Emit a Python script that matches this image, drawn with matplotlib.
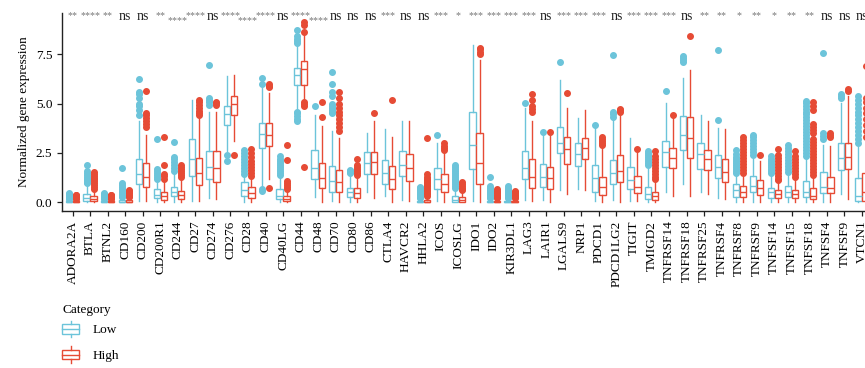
import numpy as np
import matplotlib
matplotlib.use("Agg")
import matplotlib.pyplot as plt
from matplotlib.patches import Patch, Rectangle
from matplotlib.lines import Line2D
from matplotlib.legend_handler import HandlerBase

plt.rcParams['font.family'] = ['Liberation Serif', 'DejaVu Serif']

# -----------------------------
# Data
# -----------------------------
genes = ["ADORA2A", "BTLA", "BTNL2", "CD160", "CD200", "CD200R1", "CD244", "CD27",
         "CD274", "CD276", "CD28", "CD40", "CD40LG", "CD44", "CD48", "CD70", "CD80",
         "CD86", "CTLA4", "HAVCR2", "HHLA2", "ICOS", "ICOSLG", "IDO1", "IDO2",
         "KIR3DL1", "LAG3", "LAIR1", "LGALS9", "NRP1", "PDCD1", "PDCD1LG2", "TIGIT",
         "TMIGD2", "TNFRSF14", "TNFRSF18", "TNFRSF25", "TNFRSF4", "TNFRSF8",
         "TNFRSF9", "TNFSF14", "TNFSF15", "TNFSF18", "TNFSF4", "TNFSF9", "VTCN1"]

signif = ["**", "****", "**", "ns", "ns", "**", "****", "****", "ns", "****", "****",
          "****", "ns", "****", "****", "ns", "ns", "ns", "***", "ns", "ns", "***", "*",
          "***", "***", "***", "***", "ns", "***", "***", "***", "ns", "***", "***",
          "***", "ns", "**", "**", "*", "**", "*", "**", "**", "ns", "ns", "ns"]

# Low group box stats
low_q1 = [0.0, 0.07, 0.0, 0.0, 0.9, 0.2, 0.29, 1.33, 1.16, 3.9, 0.29, 2.73, 0.15, 5.93,
          1.16, 0.54, 0.24, 1.41, 0.94, 1.33, 0.0, 0.66, 0.03, 1.67, 0.0, 0.0, 1.16,
          0.79, 2.5, 1.84, 0.54, 0.94, 0.66, 0.15, 1.78, 2.64, 1.67, 1.21, 0.27, 0.49,
          0.2, 0.27, 0.24, 0.44, 1.63, 0.07]
low_med = [0.02, 0.19, 0.02, 0.03, 1.41, 0.35, 0.54, 2.2, 1.78, 4.48, 0.62, 3.47, 0.32,
           6.46, 1.75, 1.08, 0.49, 2.0, 1.5, 1.89, 0.02, 1.16, 0.12, 2.88, 0.02, 0.02,
           1.75, 1.3, 3.01, 2.46, 1.21, 1.46, 1.11, 0.4, 2.56, 3.43, 2.42, 1.8, 0.6,
           0.82, 0.49, 0.49, 0.54, 0.77, 2.26, 0.29]
low_q3 = [0.06, 0.4, 0.06, 0.1, 2.2, 0.69, 0.79, 3.2, 2.6, 4.9, 1.0, 4.02, 0.65, 6.83,
          2.64, 1.83, 0.74, 2.56, 2.12, 2.6, 0.08, 1.72, 0.29, 4.56, 0.08, 0.08, 2.6,
          1.92, 3.82, 3.0, 1.89, 2.14, 1.78, 0.77, 3.1, 4.36, 3.0, 2.39, 0.94, 1.33,
          0.74, 0.82, 1.08, 1.53, 2.98, 1.21]
low_lo = [0.0, 0.0, 0.0, 0.0, 0.05, 0.0, 0.0, 0.05, 0.2, 2.6, 0.0, 0.8, 0.0, 4.7, 0.25,
          0.05, 0.0, 0.5, 0.3, 0.1, 0.0, 0.05, 0.0, 0.05, 0.0, 0.0, 0.1, 0.1, 0.6, 0.65,
          0.05, 0.1, 0.05, 0.0, 0.5, 0.9, 0.5, 0.2, 0.0, 0.0, 0.0, 0.0, 0.0, 0.0, 0.4, 0.0]
low_hi = [0.14, 0.88, 0.14, 0.24, 4.1, 1.05, 1.5, 5.2, 4.6, 6.4, 1.35, 5.8, 1.3, 7.95,
          4.4, 3.6, 1.4, 3.5, 3.72, 4.1, 0.18, 3.0, 0.6, 7.98, 0.18, 0.18, 4.8, 3.5,
          6.2, 4.28, 3.8, 4.2, 3.27, 1.7, 5.03, 6.3, 4.44, 3.77, 1.4, 2.17, 1.4, 1.45,
          2.2, 2.9, 5.03, 2.8]
low_fliers = [
    [0.18, 0.22, 0.26, 0.3, 0.34, 0.38, 0.42, 0.46],
    [0.95, 1.0, 1.1, 1.2, 1.3, 1.4, 1.5, 1.6, 1.88],
    [0.18, 0.22, 0.26, 0.3, 0.34, 0.38, 0.42, 0.45],
    [0.28, 0.33, 0.38, 0.45, 0.55, 0.65, 0.75, 0.85, 0.95, 1.75],
    [4.4, 4.7, 4.9, 5.0, 5.3, 5.5, 5.6, 6.26],
    [1.2, 1.3, 1.4, 1.5, 1.6, 1.67, 3.2],
    [1.6, 1.75, 1.9, 2.05, 2.2, 2.3, 3.05],
    [],
    [4.95, 5.1, 5.2, 5.3, 6.97],
    [2.1, 2.4],
    [1.45, 1.6, 1.75, 1.9, 2.05, 2.2, 2.35, 2.5, 2.65],
    [0.55, 0.65, 6.0, 6.3],
    [1.4, 1.5, 1.6, 1.7, 1.8, 1.9, 2.0, 2.1, 2.2, 2.35],
    [4.1, 4.2, 4.35, 4.5, 4.6, 8.1, 8.2, 8.3, 8.45, 8.72],
    [4.9],
    [4.5, 4.6, 4.7, 4.8, 4.9, 5.0, 5.4, 5.6, 6.0, 6.6],
    [1.5, 1.55, 1.6, 1.65],
    [],
    [],
    [],
    [0.22, 0.28, 0.34, 0.4, 0.46, 0.52, 0.58, 0.64, 0.7, 0.78],
    [3.4],
    [0.7, 0.8, 0.9, 1.0, 1.1, 1.2, 1.3, 1.4, 1.5, 1.6, 1.7, 1.8, 1.9],
    [],
    [0.22, 0.28, 0.34, 0.4, 0.46, 0.52, 0.58, 0.64, 0.72, 0.8, 1.3],
    [0.22, 0.28, 0.34, 0.4, 0.46, 0.52, 0.58, 0.64, 0.72, 0.8],
    [5.05],
    [3.57],
    [7.1],
    [],
    [3.9],
    [4.3, 4.45, 4.6, 7.45],
    [],
    [1.9, 2.0, 2.1, 2.2, 2.3, 2.4, 2.5, 2.6],
    [5.65],
    [7.1, 7.2, 7.3, 7.4],
    [],
    [4.15, 7.7],
    [1.5, 1.6, 1.7, 1.8, 1.9, 2.0, 2.1, 2.2, 2.3, 2.45, 2.65],
    [2.4, 2.55, 2.7, 2.85, 3.0, 3.15, 3.3, 3.4],
    [1.5, 1.6, 1.7, 1.8, 1.9, 2.0, 2.1, 2.2, 2.35],
    [1.55, 1.7, 1.85, 2.0, 2.15, 2.3, 2.45, 2.6, 2.75, 2.9],
    [2.35, 2.5, 2.65, 2.8, 2.95, 3.1, 3.25, 3.4, 3.55, 3.7, 3.85, 4.0, 4.15, 4.3,
     4.45, 4.6, 4.75, 4.9, 5.05, 5.15],
    [3.2, 3.35, 3.5, 7.55],
    [5.3, 5.4, 5.5],
    [3.0, 3.2, 3.4, 3.6, 3.8, 4.0, 4.2, 4.4, 4.6, 4.8, 5.0, 5.2, 5.4],
]

# High group box stats
high_q1 = [0.0, 0.07, 0.0, 0.0, 0.77, 0.1, 0.15, 0.86, 1.03, 4.41, 0.19, 2.83, 0.07,
           5.96, 0.74, 0.54, 0.2, 1.41, 0.66, 1.08, 0.0, 0.49, 0.02, 0.94, 0.0, 0.0,
           0.74, 0.66, 1.92, 2.17, 0.35, 1.0, 0.44, 0.1, 1.75, 2.26, 1.63, 1.03, 0.24,
           0.35, 0.19, 0.19, 0.15, 0.44, 1.67, 0.07]
high_med = [0.02, 0.15, 0.02, 0.03, 1.28, 0.3, 0.35, 1.46, 1.75, 4.98, 0.44, 3.43, 0.15,
            6.77, 1.25, 1.0, 0.45, 2.04, 1.16, 1.75, 0.03, 0.91, 0.1, 1.97, 0.02, 0.02,
            1.3, 1.21, 2.68, 2.76, 0.77, 1.58, 0.79, 0.29, 2.26, 3.27, 2.17, 1.55, 0.52,
            0.7, 0.4, 0.42, 0.32, 0.74, 2.3, 0.52]
high_q3 = [0.06, 0.29, 0.06, 0.1, 1.97, 0.54, 0.57, 2.26, 2.59, 5.37, 0.77, 4.0, 0.32,
           7.14, 2.0, 1.63, 0.7, 2.56, 1.83, 2.46, 0.12, 1.41, 0.27, 3.52, 0.07, 0.07,
           2.2, 1.8, 3.3, 3.27, 1.3, 2.39, 1.33, 0.52, 2.76, 4.31, 2.64, 2.17, 0.82,
           1.13, 0.62, 0.62, 0.74, 1.28, 3.0, 1.5]
high_lo = [0.0, 0.0, 0.0, 0.0, 0.05, 0.0, 0.0, 0.05, 0.15, 3.1, 0.0, 1.2, 0.0, 5.2, 0.0,
           0.0, 0.0, 0.2, 0.0, 0.05, 0.0, 0.0, 0.0, 0.0, 0.0, 0.0, 0.05, 0.0, 0.4, 0.6,
           0.0, 0.0, 0.05, 0.0, 0.3, 0.3, 0.4, 0.15, 0.0, 0.0, 0.0, 0.0, 0.0, 0.0, 0.15, 0.0]
high_hi = [0.14, 0.6, 0.14, 0.24, 3.43, 1.1, 1.2, 4.3, 4.6, 6.46, 1.2, 5.54, 0.6, 8.55,
           3.85, 3.27, 1.3, 4.1, 3.3, 4.1, 0.28, 2.5, 0.55, 7.2, 0.16, 0.16, 4.1, 3.4,
           4.8, 4.7, 2.8, 4.55, 2.6, 1.05, 4.28, 6.72, 4.1, 3.69, 1.3, 2.09, 1.0, 1.2,
           1.3, 2.85, 5.37, 3.0]
high_fliers = [
    [0.18, 0.22, 0.26, 0.3, 0.34, 0.38],
    [0.65, 0.75, 0.85, 0.95, 1.05, 1.15, 1.25, 1.35, 1.45, 1.53],
    [0.18, 0.22, 0.26, 0.3, 0.34, 0.38],
    [0.28, 0.33, 0.38, 0.44, 0.5, 0.56, 0.6],
    [3.8, 3.95, 4.1, 4.25, 4.4, 4.55, 5.65],
    [1.2, 1.35, 1.45, 1.9, 3.3],
    [1.3, 1.4, 1.5, 1.6, 1.7, 1.8, 1.9],
    [4.4, 4.5, 4.65, 4.8, 4.95, 5.1, 5.2],
    [4.95, 5.05, 5.1],
    [2.4],
    [1.35, 1.5, 1.65, 1.8, 1.95, 2.1, 2.3, 2.5, 2.7],
    [0.7, 5.85, 5.9, 6.0],
    [0.65, 0.75, 0.85, 0.95, 1.05, 2.15, 2.9],
    [1.78, 4.9, 5.0, 5.1, 8.62, 8.99, 9.16],
    [4.3, 5.1],
    [3.6, 3.8, 4.0, 4.2, 4.4, 4.6, 4.8, 5.0, 5.3, 5.6],
    [1.4, 1.5, 1.6, 1.7, 1.8, 1.9, 2.2],
    [4.55],
    [5.2],
    [],
    [0.32, 0.4, 0.48, 0.56, 0.64, 0.72, 0.8, 0.88, 0.96, 1.04, 1.12, 1.2, 1.3, 1.45,
     3.25],
    [2.65, 2.75, 2.85, 3.0],
    [0.6, 0.65, 0.7, 0.8, 0.9, 1.0],
    [7.5, 7.6, 7.75, 7.85],
    [0.2, 0.26, 0.32, 0.38, 0.44, 0.5, 0.56, 0.65],
    [0.2, 0.26, 0.32, 0.38, 0.44, 0.5, 0.55],
    [4.6, 4.75, 4.9, 5.2, 5.5],
    [3.57],
    [5.52],
    [],
    [2.9, 3.0, 3.1, 3.2, 3.3],
    [4.6, 4.7, 4.75],
    [2.68],
    [1.15, 1.3, 1.45, 1.6, 1.75, 1.9, 2.05, 2.2, 2.35, 2.6],
    [4.4],
    [8.45],
    [],
    [],
    [1.5, 1.65, 1.8, 1.95, 2.1, 2.25, 2.4, 2.55, 2.7, 2.85, 3.0, 3.15, 3.3],
    [2.4],
    [1.1, 1.2, 1.35, 1.5, 1.65, 1.8, 1.95, 2.1, 2.25, 2.4, 2.7],
    [1.3, 1.45, 1.6, 1.75, 1.9, 2.05, 2.2, 2.35, 2.6],
    [1.4, 1.55, 1.7, 1.85, 2.0, 2.15, 2.3, 2.45, 2.6, 2.75, 2.9, 3.05, 3.2, 3.5,
     3.65, 3.8, 3.95, 4.7, 4.9, 5.1],
    [3.3, 3.4, 3.5],
    [5.62, 5.72],
    [3.3, 3.6, 3.9, 4.2, 4.5, 4.8, 5.1, 5.3, 6.9],
]

low_color = "#6CC4DA"
high_color = "#E64B35"


def make_stats(q1, med, q3, lo, hi, fl):
    return [dict(q1=a, med=b, q3=c, whislo=d, whishi=e, fliers=f)
            for a, b, c, d, e, f in zip(q1, med, q3, lo, hi, fl)]


low_stats = make_stats(low_q1, low_med, low_q3, low_lo, low_hi, low_fliers)
high_stats = make_stats(high_q1, high_med, high_q3, high_lo, high_hi, high_fliers)


# small boxplot glyph for the legend (like ggplot's key)
class BoxHandler(HandlerBase):
    def create_artists(self, legend, orig_handle, xdescent, ydescent, width, height,
                       fontsize, trans):
        col = orig_handle.get_edgecolor()
        x0, y0 = -xdescent, -ydescent
        bh = height * 0.7
        by = y0 + (height - bh) / 2
        cx = x0 + width / 2
        box = Rectangle((x0, by), width, bh, facecolor="white", edgecolor=col,
                        linewidth=1.0, transform=trans)
        med = Line2D([x0, x0 + width], [by + bh / 2] * 2, color=col, lw=1.0,
                     transform=trans)
        w_top = Line2D([cx, cx], [by + bh, by + bh + height * 0.25], color=col, lw=1.0,
                       transform=trans)
        w_bot = Line2D([cx, cx], [by, by - height * 0.25], color=col, lw=1.0,
                       transform=trans)
        return [box, med, w_top, w_bot]


# -----------------------------
# Plot
# -----------------------------
fig = plt.figure(figsize=(8.65, 3.68), dpi=100)
ax = fig.add_axes([0.0717, 0.4266, 0.937, 0.538])

x = np.arange(len(genes))
for stats, pos, col in [(low_stats, x - 0.2, low_color), (high_stats, x + 0.2, high_color)]:
    ax.bxp(stats, positions=pos, widths=0.36, showcaps=False, patch_artist=True,
           boxprops=dict(facecolor="white", edgecolor=col, linewidth=1.0),
           medianprops=dict(color=col, linewidth=1.0),
           whiskerprops=dict(color=col, linewidth=1.0),
           flierprops=dict(marker="o", markerfacecolor=col, markeredgecolor=col,
                           markersize=4))

# significance labels
for i, s in enumerate(signif):
    if s == "ns":
        ax.text(i, 9.42, s, ha="center", va="center", fontsize=10, color="#222222",
                clip_on=False)
    else:
        yy = 9.2 if (s == "****" and i in (6, 10, 14)) else 9.45
        ax.text(i, yy, s, ha="center", va="center", fontsize=7.2, color="#777777",
                clip_on=False)

ax.set_xlim(-0.6, 45.6)
ax.set_ylim(-0.45, 9.6)
ax.set_xticks(x)
ax.set_xticklabels(genes, rotation=90, fontsize=9.5)
ax.set_yticks([0, 2.5, 5.0, 7.5])
ax.set_yticklabels(["0.0", "2.5", "5.0", "7.5"], fontsize=9.5)
ax.set_ylabel("Normalized gene expression", fontsize=9.5)
ax.tick_params(axis="both", length=3.5, width=0.9, color="#222222")
for side in ["top", "right"]:
    ax.spines[side].set_visible(False)
for side in ["left", "bottom"]:
    ax.spines[side].set_linewidth(1.0)
    ax.spines[side].set_color("#222222")

# legend
fig.text(62 / 865, 1 - 310 / 368, "Category", fontsize=9.5, ha="left", va="center")
handles = [Patch(facecolor="white", edgecolor=low_color),
           Patch(facecolor="white", edgecolor=high_color)]
fig.legend(handles, ["Low", "High"], loc="upper left",
           bbox_to_anchor=(62 / 865, 1 - 322 / 368), frameon=False, fontsize=9.5,
           handlelength=1.3, handleheight=1.25, labelspacing=0.85, handletextpad=1.0,
           borderpad=0, borderaxespad=0,
           handler_map={Patch: BoxHandler()})

fig.savefig("out.png", dpi=100)
